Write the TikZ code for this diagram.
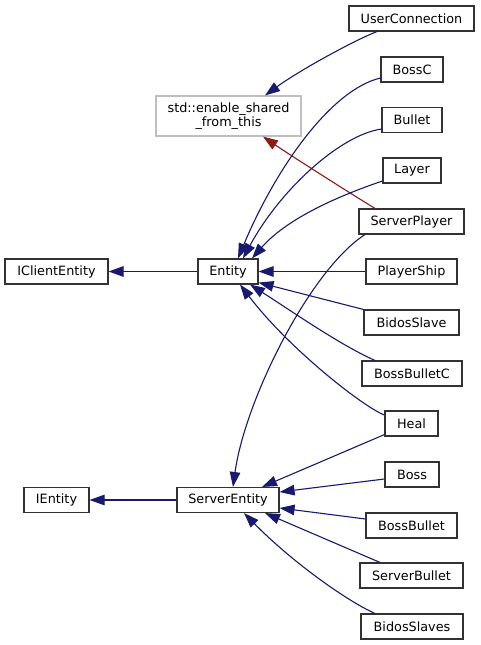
\documentclass[tikz,border=0pt]{standalone}
\usepackage{fontspec}
\setmainfont{DejaVu Sans}
\usetikzlibrary{arrows.meta}
\definecolor{edgeblue}{RGB}{25,25,112}
\definecolor{edgered}{RGB}{139,26,26}
\definecolor{boxline}{RGB}{50,50,50}
\definecolor{greyline}{RGB}{191,191,191}
\begin{document}
\begin{tikzpicture}[x=1pt,y=-1pt,
  box/.style={draw=boxline,line width=1.1pt,fill=white,minimum height=25pt,inner sep=0pt,
    font=\fontsize{12.8}{14.7}\selectfont,align=center},
  greybox/.style={box,draw=greyline},
  inh/.style={draw=edgeblue,line width=1.1pt,-{Triangle[length=15pt,width=10.5pt]},color=edgeblue},
  priv/.style={inh,draw=edgered,color=edgered}]
\useasboundingbox (0,0) rectangle (480,645);
\fill[white] (0,0) rectangle (480,645);
% nodes
\node[box,minimum width=125pt] (uc) at (411.5,18.5) {UserConnection};
\node[box,minimum width=62pt] (bossc) at (412,69.5) {BossC};
\node[box,minimum width=60pt] (bullet) at (412,120) {Bullet};
\node[box,minimum width=58pt] (layer) at (412,170.5) {Layer};
\node[box,minimum width=105pt] (splayer) at (411.5,221.5) {ServerPlayer};
\node[greybox,minimum width=145pt,minimum height=40pt] (esft) at (228.5,116) {std::enable\_shared\\\_from\_this};
\node[box,minimum width=103pt] (ice) at (56.5,271.5) {IClientEntity};
\node[box,minimum width=60pt] (entity) at (228,271.5) {Entity};
\node[box,minimum width=91pt] (pship) at (411.5,271.5) {PlayerShip};
\node[box,minimum width=95pt] (bslave) at (411.5,322.5) {BidosSlave};
\node[box,minimum width=100pt] (bbc) at (412,373.5) {BossBulletC};
\node[box,minimum width=53pt] (heal) at (411.5,423.5) {Heal};
\node[box,minimum width=54pt] (boss) at (412,474.5) {Boss};
\node[box,minimum width=65pt] (ient) at (56.5,500) {IEntity};
\node[box,minimum width=102pt] (sent) at (228,500) {ServerEntity};
\node[box,minimum width=91pt] (bbullet) at (411.5,525.5) {BossBullet};
\node[box,minimum width=103pt] (sbullet) at (411.5,575.5) {ServerBullet};
\node[box,minimum width=102pt] (bslaves) at (412,626.5) {BidosSlaves};
% edges
\draw[inh] ([xshift=-34.5pt]uc.south) .. controls (355,40) and (300,70) .. ([xshift=36.5pt]esft.north);
\draw[priv] ([xshift=-36.5pt]splayer.north) .. controls (345,190) and (290,155) .. ([xshift=34.5pt]esft.south);
\draw[inh] ([yshift=-8.5pt]bossc.west) .. controls (330,90) and (275,170) .. ([xshift=10pt]entity.north);
\draw[inh] ([yshift=-9pt]bullet.west) .. controls (340,135) and (280,190) .. ([xshift=15pt]entity.north);
\draw[inh] ([yshift=-10.5pt]layer.west) .. controls (350,192) and (290,215) .. ([xshift=24pt]entity.north);
\draw[inh] (pship.west) -- (entity.east);
\draw[inh] (bslave.north west) -- ([yshift=2pt]entity.south east);
\draw[inh] ([xshift=-37pt]bbc.north) .. controls (340,345) and (290,310) .. ([xshift=22pt]entity.south);
\draw[inh] ([yshift=8.5pt]heal.west) .. controls (365,408) and (290,350) .. ([xshift=12pt]entity.south);
\draw[inh] ([xshift=-46.5pt]splayer.south) .. controls (310,270) and (245,400) .. ([xshift=5pt]sent.north);
\draw[inh] ([yshift=2pt]heal.south west) -- ([xshift=34pt]sent.north);
\draw[inh] ([yshift=-4.5pt]boss.west) -- ([yshift=8pt]sent.east);
\draw[inh] ([yshift=6.5pt]bbullet.west) -- ([yshift=-8pt]sent.east);
\draw[inh] ([xshift=-31.5pt]sbullet.north) -- ([xshift=37pt]sent.south);
\draw[inh] ([xshift=-37pt]bslaves.north) .. controls (345,600) and (290,560) .. ([xshift=16pt]sent.south);
\draw[inh] (sent.west) -- (ient.east);
\draw[inh] (entity.west) -- (ice.east);
\end{tikzpicture}
\end{document}
